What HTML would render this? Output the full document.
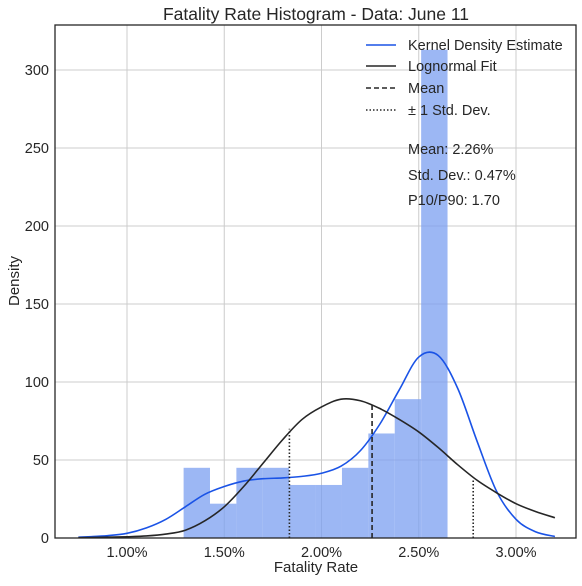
<!DOCTYPE html>
<html><head><meta charset="utf-8"><style>
body{margin:0;background:#fff;font-family:"Liberation Sans",sans-serif;}
svg text{font-family:"Liberation Sans",sans-serif;fill:#262626;}
</style></head><body>
<svg id="chart" width="582" height="581" xmlns="http://www.w3.org/2000/svg">
<g id="grid"></g>
<g id="bars"></g>
<g id="lines"></g>
<g id="axes"></g>
<text x="316" y="20" font-size="17.5" text-anchor="middle">Fatality Rate Histogram - Data: June 11</text>
<text x="316" y="572" font-size="15" text-anchor="middle">Fatality Rate</text>
<text x="19" y="281" font-size="15" text-anchor="middle" transform="rotate(-90 19 281)">Density</text>
<g>
<line x1="366" y1="45" x2="396" y2="45" stroke="#1a53e6" stroke-width="1.6"/>
<text x="408" y="50" font-size="14.5">Kernel Density Estimate</text>
<line x1="366" y1="66" x2="396" y2="66" stroke="#262626" stroke-width="1.6"/>
<text x="408" y="71" font-size="14.5">Lognormal Fit</text>
<line x1="366" y1="88" x2="396" y2="88" stroke="#262626" stroke-width="1.6" stroke-dasharray="5,3"/>
<text x="408" y="93" font-size="14.5">Mean</text>
<line x1="366" y1="110" x2="396" y2="110" stroke="#262626" stroke-width="1.6" stroke-dasharray="1.5,2"/>
<text x="408" y="115" font-size="14.5">± 1 Std. Dev.</text>
<text x="408" y="154" font-size="14.5">Mean: 2.26%</text>
<text x="408" y="180" font-size="14.5">Std. Dev.: 0.47%</text>
<text x="408" y="205" font-size="14.5">P10/P90: 1.70</text>
</g>
</svg>
<script>
const binStart = 1.291, binWidth = 0.1357;
const binHeights = [45, 22, 45, 45, 34, 34, 45, 67, 89, 313];
const xTicks = [1.0, 1.5, 2.0, 2.5, 3.0];
const xTickLabels = ["1.00%", "1.50%", "2.00%", "2.50%", "3.00%"];
const yTicks = [0, 50, 100, 150, 200, 250, 300];
const kdeX = [0.75,0.8,0.9,1.0,1.1,1.2,1.3,1.4,1.5,1.6,1.7,1.8,1.9,2.0,2.1,2.2,2.3,2.4,2.5,2.6,2.7,2.8,2.9,3.0,3.1,3.2];
const kdeY = [0.5,0.8,1.5,3,6.5,12,20,28,33,36.5,38,38.5,39.5,41.5,46,56,73,95,116,117,96,62,30,12,4,1];
const lnX = [0.75,0.8,0.9,1.0,1.1,1.2,1.3,1.4,1.5,1.6,1.7,1.8,1.9,2.0,2.1,2.2,2.3,2.4,2.5,2.6,2.7,2.8,2.9,3.0,3.1,3.2];
const lnY = [0.2,0.3,0.5,0.8,1.3,2.5,5,11,20,33,48,63,76,84,89,88,83,76,68,58,47,37,29,22,17,13];
const meanVal = 2.26, meanH = 85;
const stdLo = 1.835, stdLoH = 70, stdHi = 2.78, stdHiH = 38;

const L=55,R=576,T=25,B=538;
const xs = v => 127 + (v-1.0)*194.5;
const ys = v => B - v*1.56;
const NS="http://www.w3.org/2000/svg";
function mk(tag, attrs, parent){const e=document.createElementNS(NS,tag);for(const k in attrs)e.setAttribute(k,attrs[k]);parent.appendChild(e);return e;}
const grid=document.getElementById('grid'), bars=document.getElementById('bars'), lines=document.getElementById('lines'), axes=document.getElementById('axes');
xTicks.forEach((t,i)=>{
  const g=mk('line',{x1:xs(t),x2:xs(t),y1:T,y2:B,stroke:'#cccccc','stroke-width':1},grid);
  
  
  const tx=mk('text',{x:xs(t),y:B+19,'font-size':14.5,'text-anchor':'middle'},axes);
  tx.textContent=xTickLabels[i];
  
  
});
yTicks.forEach(t=>{
  const g=mk('line',{x1:L,x2:R,y1:ys(t),y2:ys(t),stroke:'#cccccc','stroke-width':1},grid);
  
  
  const tx=mk('text',{x:L-6,y:ys(t)+5,'font-size':14.5,'text-anchor':'end'},axes);
  tx.textContent=String(t);
  
  
});
binHeights.forEach((h,i)=>{
  const x0=xs(binStart+i*binWidth), x1=xs(binStart+(i+1)*binWidth);
  const r=mk('rect',{x:x0,y:ys(h),width:x1-x0,height:B-ys(h),fill:'#7b9ff0','fill-opacity':0.75},bars);
  
  
});
function smooth(X,Y){
  const p=X.map((x,i)=>[xs(x),ys(Y[i])]);
  let d='M'+p[0][0]+','+p[0][1];
  for(let i=0;i<p.length-1;i++){
    const p0=p[i-1]||p[i],p1=p[i],p2=p[i+1],p3=p[i+2]||p2;
    const c1=[p1[0]+(p2[0]-p0[0])/6,p1[1]+(p2[1]-p0[1])/6];
    const c2=[p2[0]-(p3[0]-p1[0])/6,p2[1]-(p3[1]-p1[1])/6];
    d+=` C${c1[0]},${c1[1]} ${c2[0]},${c2[1]} ${p2[0]},${p2[1]}`;
  }
  return d;
}
const kde=mk('path',{d:smooth(kdeX,kdeY),fill:'none',stroke:'#1a53e6','stroke-width':1.6},lines);


const ln=mk('path',{d:smooth(lnX,lnY),fill:'none',stroke:'#262626','stroke-width':1.6},lines);


const m=mk('line',{x1:xs(meanVal),x2:xs(meanVal),y1:B,y2:ys(meanH),stroke:'#262626','stroke-width':1.6,'stroke-dasharray':'5,3'},lines);


const s1=mk('line',{x1:xs(stdLo),x2:xs(stdLo),y1:B,y2:ys(stdLoH),stroke:'#262626','stroke-width':1.6,'stroke-dasharray':'1.5,2'},lines);


const s2=mk('line',{x1:xs(stdHi),x2:xs(stdHi),y1:B,y2:ys(stdHiH),stroke:'#262626','stroke-width':1.6,'stroke-dasharray':'1.5,2'},lines);


const fr=mk('rect',{x:L,y:T,width:R-L,height:B-T,fill:'none',stroke:'#262626','stroke-width':1.3},axes);


</script>
</body></html>
